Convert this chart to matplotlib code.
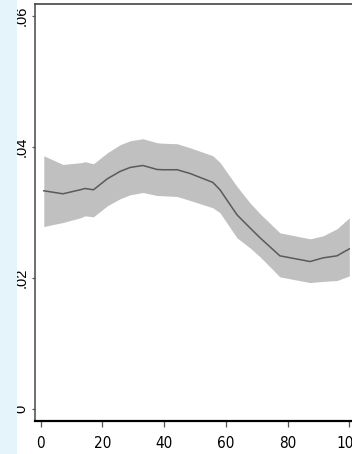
import matplotlib
matplotlib.use("Agg")
import matplotlib.pyplot as plt
from matplotlib.patches import Rectangle

# Smoothed estimate with its confidence band
x = [1, 7.2, 12.8, 14.4, 17.1, 21.6, 25.7, 29.0, 33.1, 37.7, 39.7, 44.2,
     48.4, 55.8, 58.1, 63.6, 67.8, 71.1, 77.5, 87.3, 91.5, 96.0, 100]
fit = [0.03328, 0.03282, 0.03343, 0.03363, 0.03343, 0.03511, 0.03623, 0.03684,
       0.03714, 0.03653, 0.03649, 0.03649, 0.03592, 0.03455, 0.03343, 0.02962,
       0.02763, 0.02610, 0.02336, 0.02249, 0.02305, 0.02336, 0.02442]
upper = [0.03862, 0.03730, 0.03755, 0.03771, 0.03740, 0.03908, 0.04030, 0.04091,
         0.04122, 0.04061, 0.04053, 0.04046, 0.03984, 0.03862, 0.03760, 0.03394,
         0.03145, 0.02977, 0.02687, 0.02595, 0.02641, 0.02748, 0.02916]
lower = [0.02783, 0.02844, 0.02915, 0.02946, 0.02931, 0.03099, 0.03206, 0.03267,
         0.03302, 0.03256, 0.03252, 0.03241, 0.03180, 0.03068, 0.02992, 0.02610,
         0.02458, 0.02320, 0.02015, 0.01928, 0.01946, 0.01959, 0.02030]

xticks = [0, 20, 40, 60, 80, 100]
yticks = [0, 0.02, 0.04, 0.06]
ytick_labels = ["0", ".02", ".04", ".06"]

W, H = 352, 454
fig = plt.figure(figsize=(W / 100, H / 100), dpi=100)
fig.patch.set_facecolor("white")
fig.patches.append(Rectangle((0, 0), 17 / W, 1, transform=fig.transFigure,
                             facecolor="#e5f3fb", edgecolor="none", zorder=0))

left_px, right_px, top_px, bottom_px = 35, 352, 4.2, 421
ax = fig.add_axes([left_px / W, 1 - bottom_px / H,
                   (right_px - left_px) / W, (bottom_px - top_px) / H])
ax.set_facecolor("white")

ax.fill_between(x, lower, upper, color="#c0c0c0", linewidth=0, zorder=1)
ax.plot(x, fit, color="#5a5a5a", linewidth=1.1, zorder=2)

x0_px, x_scale = 40.7, 3.086
ax.set_xlim((left_px - x0_px) / x_scale, (right_px - x0_px) / x_scale)
y0_px, y_scale = 409, 6557
ax.set_ylim((y0_px - bottom_px) / y_scale, (y0_px - top_px) / y_scale)

ax.spines["right"].set_visible(False)
ax.spines["top"].set_color("#444444")
ax.spines["top"].set_linewidth(1.2)
ax.spines["left"].set_color("#555555")
ax.spines["left"].set_linewidth(1.2)
ax.spines["bottom"].set_color("black")
ax.spines["bottom"].set_linewidth(1.6)

ax.set_xticks(xticks)
ax.set_xticklabels([str(t) for t in xticks],
                   family=["Liberation Sans Narrow", "DejaVu Sans"],
                   fontstretch="condensed", fontsize=11)
ax.set_yticks(yticks)
ax.set_yticklabels(ytick_labels, family=["Liberation Sans", "DejaVu Sans"],
                   fontsize=10.5, rotation=90, va="center")

ax.tick_params(axis="x", direction="out", length=4.5, width=0.9,
               color="#555555", pad=6)
ax.tick_params(axis="y", direction="out", length=2.5, width=0.9,
               color="#555555", pad=2.0)

fig.savefig("out.png", dpi=100, facecolor=fig.get_facecolor())
